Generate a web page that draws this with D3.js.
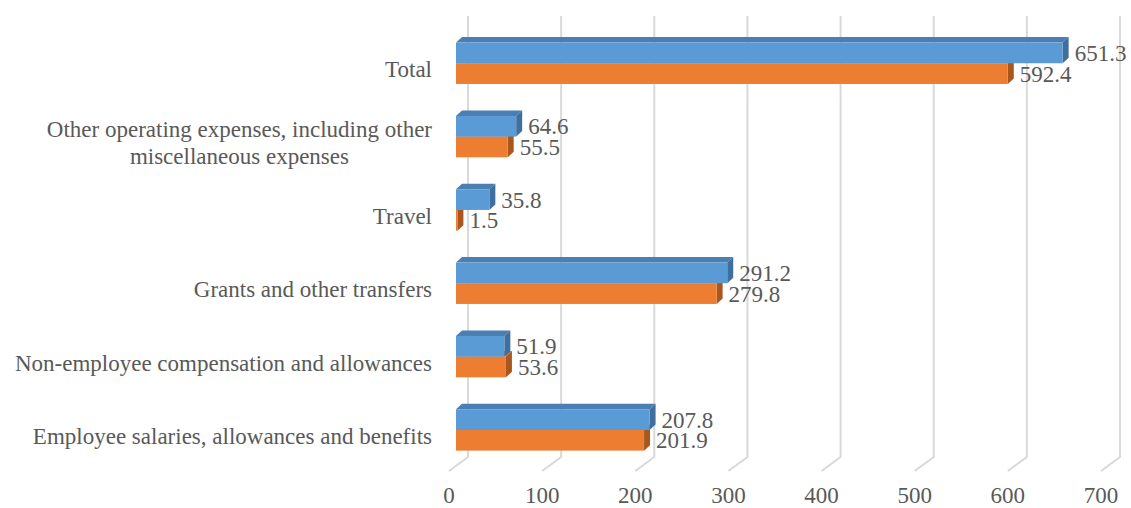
<!DOCTYPE html>
<html>
<head>
<meta charset="utf-8">
<script src="https://cdn.jsdelivr.net/npm/d3@7"></script>
<style>
  html, body { margin: 0; padding: 0; background: #fff; }
  svg text { font-family: "Liberation Serif", "DejaVu Serif", serif; fill: #595959; }
</style>
</head>
<body>
<div id="chart"></div>
<script>
(() => {
"use strict";

const WIDTH = 1131, HEIGHT = 508;

// categories top to bottom
const categories = [
  "Total",
  "Other operating expenses, including other miscellaneous expenses",
  "Travel",
  "Grants and other transfers",
  "Non-employee compensation and allowances",
  "Employee salaries, allowances and benefits"
];
const labelLines = [
  ["Total"],
  ["Other operating expenses, including other", "miscellaneous expenses"],
  ["Travel"],
  ["Grants and other transfers"],
  ["Non-employee compensation and allowances"],
  ["Employee salaries, allowances and benefits"]
];
const blueValues = [651.3, 64.6, 35.8, 291.2, 51.9, 207.8];
const orangeValues = [592.4, 55.5, 1.5, 279.8, 53.6, 201.9];
const ticks = [0, 100, 200, 300, 400, 500, 600, 700];

// 3d offsets
const DEPTH_X = 6, DEPTH_Y = -5.5;
const FLOOR_X = -19, FLOOR_Y = 14;
const BAR_H = 20.7;

let svg = d3.select("#chart").append("svg")
  .attr("width", WIDTH)
  .attr("height", HEIGHT);

// front face of bars
let xScale = d3.scaleLinear().domain([0, 700]).range([456, 1108]);
// back wall, where gridlines stand
let xBack = d3.scaleLinear().domain([0, 700]).range([468, 1120]);

let yScale = d3.scaleBand()
  .domain(categories)
  .range([26.6, 466.6]);

let mid = d => yScale(d) + yScale.bandwidth() / 2;

///////////////
// Gridlines //
///////////////

svg.append("g")
  .selectAll("path")
  .data(ticks)
  .join("path")
  .attr("fill", "none")
  .attr("stroke", "#d9d9d9")
  .attr("stroke-width", 2)
  .attr("d", t => {
    let x = xBack(t);
    return `M${x},16 L${x},457 L${x + FLOOR_X},${457 + FLOOR_Y}`;
  });

svg.append("g")
  .selectAll("text")
  .data(ticks)
  .join("text")
  .attr("x", t => xBack(t) + FLOOR_X)
  .attr("y", 503)
  .attr("text-anchor", "middle")
  .attr("font-size", 23)
  .text(t => t);

//////////
// Bars //
//////////

let drawBar = function(g, value, top, colors) {
  let x0 = xScale(0), x1 = xScale(value);
  let y0 = top, y1 = top + BAR_H;
  // top face
  g.append("path")
    .attr("fill", colors.top)
    .attr("d", `M${x0},${y0} L${x0 + DEPTH_X},${y0 + DEPTH_Y} L${x1 + DEPTH_X},${y0 + DEPTH_Y} L${x1},${y0} Z`);
  // side face
  g.append("path")
    .attr("fill", colors.side)
    .attr("d", `M${x1},${y0} L${x1 + DEPTH_X},${y0 + DEPTH_Y} L${x1 + DEPTH_X},${y1 + DEPTH_Y} L${x1},${y1} Z`);
  // front face
  g.append("rect")
    .attr("x", x0)
    .attr("y", y0)
    .attr("width", x1 - x0)
    .attr("height", BAR_H)
    .attr("fill", colors.front);
};

const blueColors = { front: "#5b9bd5", top: "#4a7fb3", side: "#3f6f9c" };
const orangeColors = { front: "#ed7d31", top: "#c96a29", side: "#a9561f" };

let bars = svg.append("g");
categories.forEach((c, i) => {
  let g = bars.append("g");
  let m = mid(c);
  drawBar(g, orangeValues[i], m, orangeColors);
  drawBar(g, blueValues[i], m - BAR_H, blueColors);
});

// value labels
let valueLabels = svg.append("g").attr("font-size", 23);
categories.forEach((c, i) => {
  let m = mid(c);
  valueLabels.append("text")
    .attr("x", xScale(blueValues[i]) + 12)
    .attr("y", m - BAR_H / 2 + 8)
    .text(blueValues[i].toFixed(1));
  valueLabels.append("text")
    .attr("x", xScale(orangeValues[i]) + 12)
    .attr("y", m + BAR_H / 2 + 8)
    .text(orangeValues[i].toFixed(1));
});

/////////////////////
// Category labels //
/////////////////////

const LINE_H = 27;
let catLabels = svg.append("g").attr("font-size", 23);
categories.forEach((c, i) => {
  let lines = labelLines[i];
  let base = mid(c) + 14 - (lines.length - 1) * LINE_H / 2;
  let text = catLabels.append("text").attr("text-anchor", "middle");
  let spans = lines.map((l, j) => text.append("tspan")
    .attr("y", base + j * LINE_H)
    .text(l));
  let w = d3.max(spans, s => s.node().getComputedTextLength());
  spans.forEach(s => s.attr("x", 432 - w / 2));
});
})();
</script>
</body>
</html>
